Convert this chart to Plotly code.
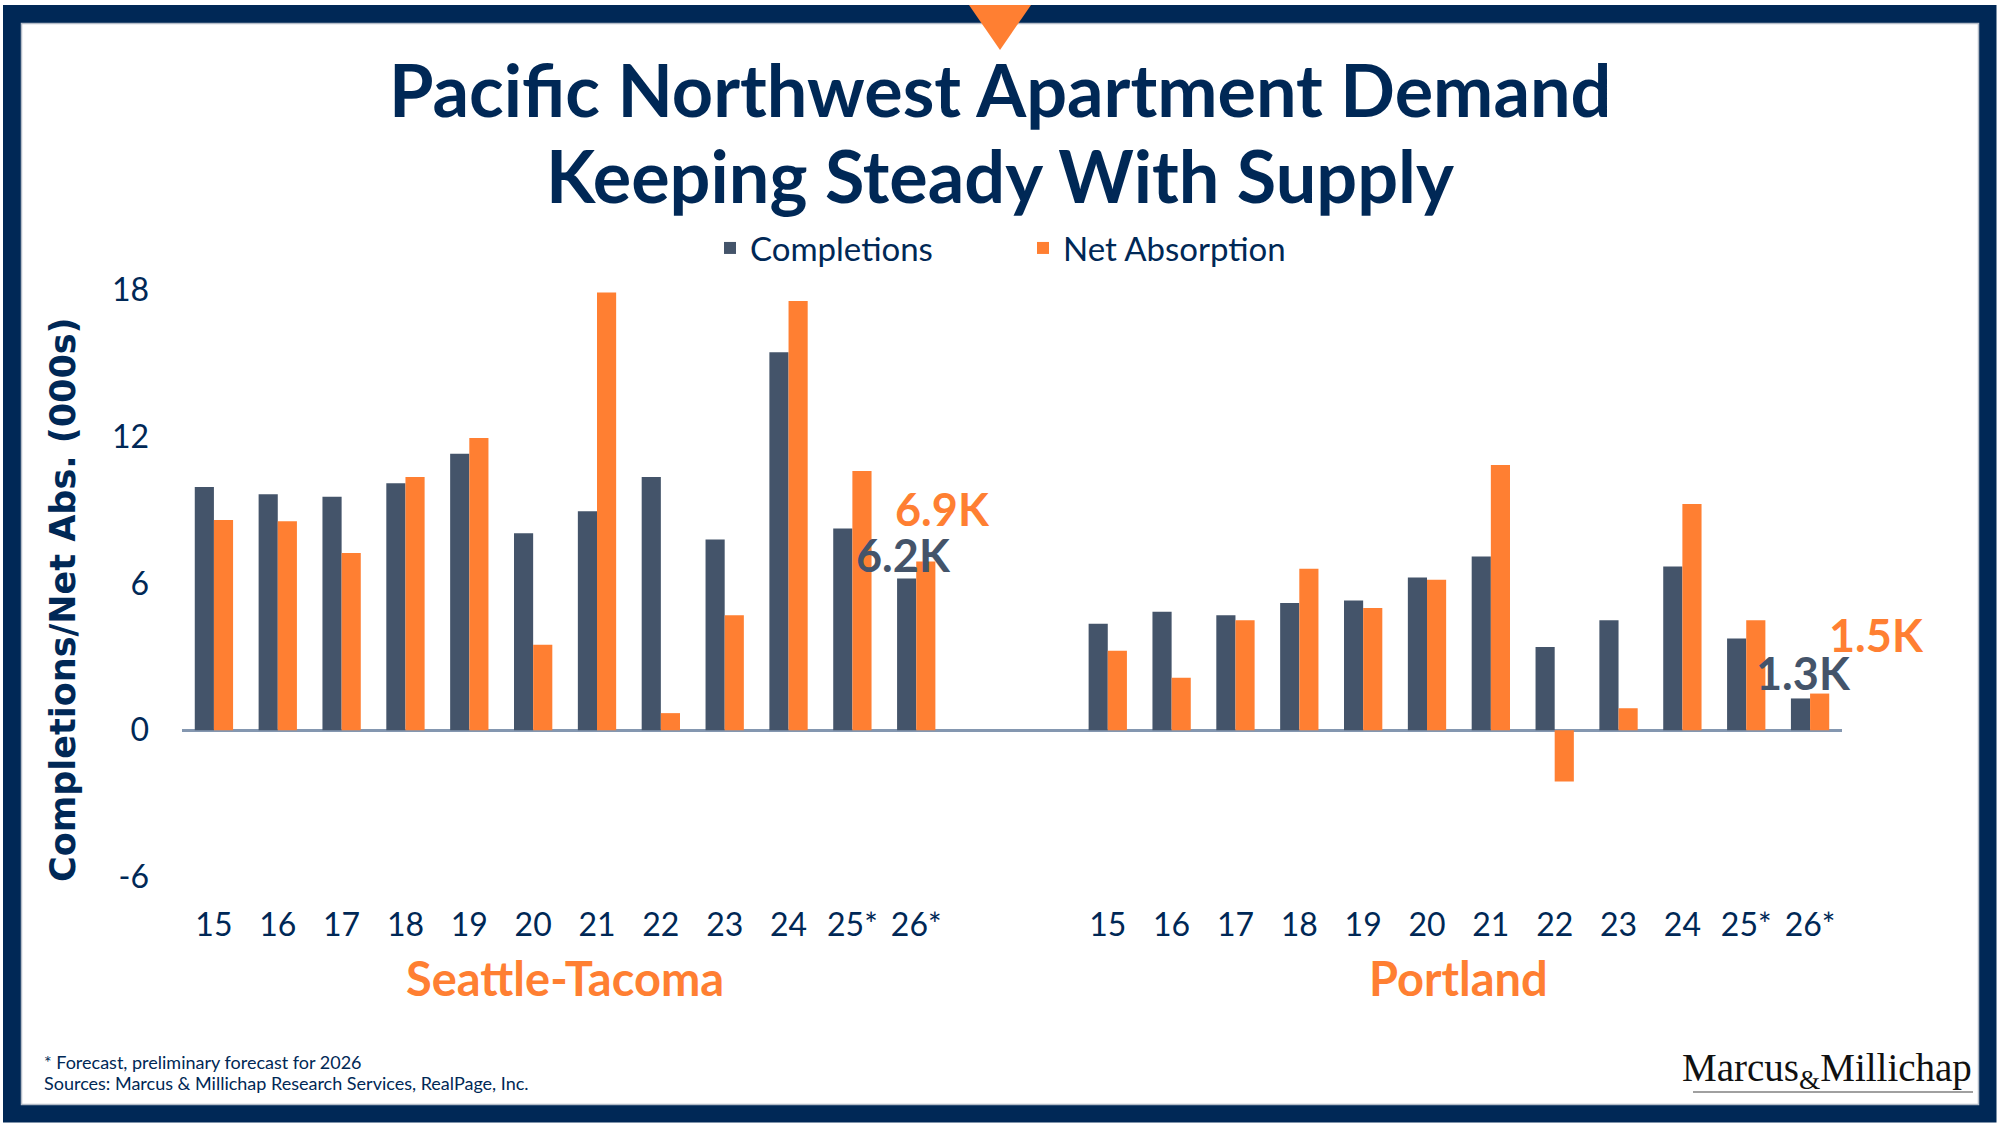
import plotly.graph_objects as go

# ---------------- data ----------------
years = ["15", "16", "17", "18", "19", "20", "21", "22", "23", "24", "25*", "26*"]
cities = ["Seattle-Tacoma", "Portland"]

seattle_completions = [9.95, 9.65, 9.55, 10.1, 11.3, 8.05, 8.95, 10.35, 7.8, 15.45, 8.25, 6.2]
seattle_absorption = [8.6, 8.55, 7.25, 10.35, 11.95, 3.5, 17.9, 0.7, 4.7, 17.55, 10.6, 6.9]
portland_completions = [4.35, 4.85, 4.7, 5.2, 5.3, 6.25, 7.1, 3.4, 4.5, 6.7, 3.75, 1.3]
portland_absorption = [3.25, 2.15, 4.5, 6.6, 5.0, 6.15, 10.85, -2.1, 0.9, 9.25, 4.5, 1.5]

yticks = [-6, 0, 6, 12, 18]

# ---------------- style ----------------
NAVY = "#002856"
GRAY_BLUE = "#44546A"
ORANGE = "#FF7F32"
W, H = 2000, 1126
L, R, T, B = 182, 1842, 290, 877  # plot area in pixels

def px_x(px):
    return (px - L) / (R - L)

def px_y(py):
    return (B - py) / (B - T)

gap_slots = 2
seattle_pos = list(range(len(years)))
portland_pos = [len(years) + gap_slots + i for i in range(len(years))]
positions = seattle_pos + portland_pos
tick_text = years + years

fig = go.Figure()
fig.add_trace(go.Bar(
    x=positions, y=seattle_completions + portland_completions,
    name="Completions", marker=dict(color=GRAY_BLUE, line=dict(width=0)),
))
fig.add_trace(go.Bar(
    x=positions, y=seattle_absorption + portland_absorption,
    name="Net Absorption", marker=dict(color=ORANGE, line=dict(width=0)),
))

n_slots = len(positions) + gap_slots
fig.update_layout(
    width=W, height=H, autosize=False,
    margin=dict(l=L, r=W - R, t=T, b=H - B, pad=0, autoexpand=False),
    paper_bgcolor="white", plot_bgcolor="white",
    barmode="group", bargap=0.4, bargroupgap=0,
    font=dict(family="Lato", color=NAVY),
    showlegend=True,
    legend=dict(
        orientation="h", xref="paper", yref="paper",
        x=px_x(710), y=px_y(248), xanchor="left", yanchor="middle",
        font=dict(family="Lato", size=33, color=NAVY),
        entrywidth=268, entrywidthmode="pixels",
        bgcolor="rgba(0,0,0,0)", traceorder="normal",
    ),
    xaxis=dict(
        range=[-0.5, n_slots - 0.5], tickmode="array",
        tickvals=positions, ticktext=tick_text,
        tickfont=dict(family="Lato", size=32, color=NAVY),
        showgrid=False, showline=False, zeroline=False, ticks="",
        ticklabelstandoff=26, fixedrange=True, automargin=False,
    ),
    yaxis=dict(
        range=[yticks[0], yticks[-1]], tickmode="array", tickvals=yticks,
        ticktext=[str(v) for v in yticks],
        tickfont=dict(family="Lato", size=32, color=NAVY),
        showgrid=False, showline=False, ticks="",
        zeroline=True, zerolinecolor="#8497B0", zerolinewidth=2.5,
        ticklabelstandoff=32, fixedrange=True, automargin=False,
    ),
)

ann = []
# title
ann.append(dict(text="<b>Pacific Northwest Apartment Demand</b>", x=px_x(1000), y=px_y(89),
                xref="paper", yref="paper", showarrow=False, xanchor="center", yanchor="middle",
                font=dict(family="Lato", size=72, color=NAVY)))
ann.append(dict(text="<b>Keeping Steady With Supply</b>", x=px_x(1000), y=px_y(175),
                xref="paper", yref="paper", showarrow=False, xanchor="center", yanchor="middle",
                font=dict(family="Lato", size=72, color=NAVY)))
# y-axis title
ann.append(dict(text="<b>Completions/Net Abs. (000s)</b>", x=px_x(63), y=px_y(600),
                xref="paper", yref="paper", showarrow=False, textangle=-90,
                xanchor="center", yanchor="middle",
                font=dict(family="DejaVu Sans", size=35, color=NAVY)))
# city labels
for city, pos in zip(cities, [seattle_pos, portland_pos]):
    ann.append(dict(text=f"<b>{city}</b>", x=sum(pos) / len(pos), y=px_y(978),
                    xref="x", yref="paper", showarrow=False, xanchor="center", yanchor="middle",
                    font=dict(family="Lato", size=47, color=ORANGE)))
# data labels on final forecast year
off = 0.15
lab_specs = [
    (seattle_pos[-1] - off, seattle_completions[-1], GRAY_BLUE, -3, 24),
    (seattle_pos[-1] + off, seattle_absorption[-1], ORANGE, 17, 52),
    (portland_pos[-1] - off, portland_completions[-1], GRAY_BLUE, 3, 25),
    (portland_pos[-1] + off, portland_absorption[-1], ORANGE, 57, 59),
]
for xv, yv, col, xs, ys in lab_specs:
    ann.append(dict(text=f"<b>{yv:.1f}K</b>", x=xv, y=yv, xref="x", yref="y",
                    showarrow=False, xanchor="center", yanchor="middle",
                    xshift=xs, yshift=ys,
                    font=dict(family="Lato", size=45, color=col)))
# footnotes
ann.append(dict(text="* Forecast, preliminary forecast for 2026", x=px_x(42), y=px_y(1062),
                xref="paper", yref="paper", showarrow=False, xanchor="left", yanchor="middle",
                font=dict(family="Lato", size=18, color=NAVY)))
ann.append(dict(text="Sources: Marcus &amp; Millichap Research Services, RealPage, Inc.", x=px_x(42), y=px_y(1083),
                xref="paper", yref="paper", showarrow=False, xanchor="left", yanchor="middle",
                font=dict(family="Lato", size=18, color=NAVY)))
# logo
ann.append(dict(text="Marcus<sub>&amp;</sub>Millichap", x=px_x(1974), y=px_y(1070),
                xref="paper", yref="paper", showarrow=False, xanchor="right", yanchor="middle",
                font=dict(family="Liberation Serif", size=39, color="#111111")))
fig.update_layout(annotations=ann)

shapes = []
# logo underline
shapes.append(dict(type="line", xref="paper", yref="paper",
                   x0=px_x(1693), x1=px_x(1973), y0=px_y(1092), y1=px_y(1092),
                   line=dict(color="#A0A0A0", width=2)))
# frame border
shapes.append(dict(type="rect", xref="paper", yref="paper",
                   x0=px_x(12), x1=px_x(1987.5), y0=px_y(14), y1=px_y(1113.5),
                   line=dict(color=NAVY, width=18), fillcolor="rgba(0,0,0,0)", layer="above"))
shapes.append(dict(type="rect", xref="paper", yref="paper",
                   x0=px_x(21.5), x1=px_x(1978.5), y0=px_y(23.5), y1=px_y(1104.5),
                   line=dict(color="#B4BCC8", width=1.5), fillcolor="rgba(0,0,0,0)", layer="above"))
# orange pointer triangle
path = (f"M{px_x(969)},{px_y(5)} L{px_x(1031)},{px_y(5)} L{px_x(1000)},{px_y(50)} Z")
shapes.append(dict(type="path", xref="paper", yref="paper", path=path,
                   fillcolor=ORANGE, line=dict(width=0), layer="above"))
fig.update_layout(shapes=shapes)

fig.write_html("out.html", config={"displayModeBar": False},
               post_script="document.body.style.margin='0';document.body.style.overflow='hidden';")
